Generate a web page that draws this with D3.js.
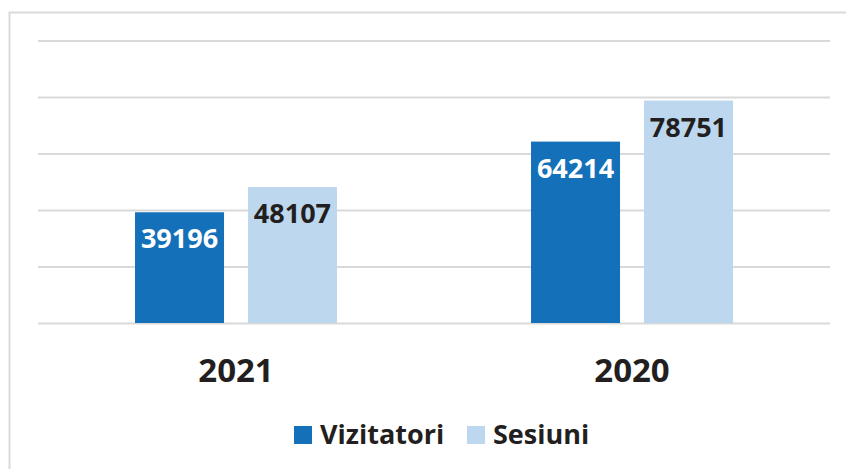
<!DOCTYPE html>
<html>
<head>
<meta charset="utf-8">
<script src="https://cdn.jsdelivr.net/npm/d3@7"></script>
<style>
  html, body { margin: 0; padding: 0; background: #fff; }
  svg { display: block; font-family: "Open Sans", sans-serif; }
</style>
</head>
<body>
<div id="chart"></div>
<script>
// data
const years = ["2021", "2020"];
const seriesNames = ["Vizitatori", "Sesiuni"];
const vizitatori = [39196, 64214];
const sesiuni = [48107, 78751];
const yTicks = [0, 20000, 40000, 60000, 80000, 100000];

const colors = { Vizitatori: "#1470b8", Sesiuni: "#bdd7ee" };
const labelColors = { Vizitatori: "#ffffff", Sesiuni: "#231f20" };

const W = 846, H = 469;
const margin = { top: 40.5, left: 38, right: 16, bottom: 146 };
const width = W - margin.left - margin.right;   // 792
const height = H - margin.top - margin.bottom;  // ~282.5

const rows = years.map((y, i) => ({ year: y, Vizitatori: vizitatori[i], Sesiuni: sesiuni[i] }));

const svg = d3.select("#chart").append("svg")
    .attr("width", W)
    .attr("height", H);

// chart frame (only top and left edges visible)
svg.append("rect")
    .attr("x", 9.5).attr("y", 12.5)
    .attr("width", W + 20).attr("height", H + 20)
    .attr("fill", "none")
    .attr("stroke", "#d9d9d9")
    .attr("stroke-width", 2);

const g = svg.append("g")
    .attr("transform", `translate(${margin.left},${margin.top})`);

const x0 = d3.scaleBand()
    .domain(years)
    .range([0, width])
    .paddingInner(0.49)
    .paddingOuter(0.245);

const x1 = d3.scaleBand()
    .domain(seriesNames)
    .range([0, x0.bandwidth()])
    .paddingInner(0.212);

const y = d3.scaleLinear()
    .domain([0, 100000])
    .range([height, 0]);

// gridlines
g.append("g")
    .attr("class", "grid")
    .call(d3.axisLeft(y).tickValues(yTicks).tickSize(-width).tickFormat(""))
    .call(s => s.select(".domain").remove())
    .call(s => s.selectAll(".tick line")
        .attr("stroke", "#d9d9d9")
        .attr("stroke-width", 2));

// bars
const groups = g.selectAll(".year")
    .data(rows)
    .enter().append("g")
    .attr("class", "year")
    .attr("transform", d => `translate(${x0(d.year)},0)`);

groups.selectAll("rect")
    .data(d => seriesNames.map(k => ({ key: k, value: d[k] })))
    .enter().append("rect")
    .attr("x", d => x1(d.key))
    .attr("width", x1.bandwidth())
    .attr("y", d => y(d.value))
    .attr("height", d => height - y(d.value))
    .attr("fill", d => colors[d.key]);

groups.selectAll(".bar-label")
    .data(d => seriesNames.map(k => ({ key: k, value: d[k] })))
    .enter().append("text")
    .attr("class", "bar-label")
    .attr("x", d => x1(d.key) + x1.bandwidth() / 2)
    .attr("y", d => y(d.value) + 36)
    .attr("text-anchor", "middle")
    .style("font-size", "27px")
    .style("font-weight", 700)
    .style("fill", d => labelColors[d.key])
    .text(d => d.value);

// x axis labels
g.append("g")
    .attr("transform", `translate(0,${height})`)
    .call(d3.axisBottom(x0).tickSize(0).tickPadding(0))
    .call(s => s.select(".domain").remove())
    .call(s => s.selectAll(".tick text")
        .attr("dy", null)
        .attr("y", 59)
        .style("font-family", "'Open Sans', sans-serif")
        .style("font-size", "33px")
        .style("font-weight", 700)
        .style("fill", "#231f20"));

// legend
const legendX = [294, 467];
const legend = svg.append("g").attr("class", "legend");
seriesNames.forEach((k, i) => {
    legend.append("rect")
        .attr("x", legendX[i]).attr("y", 426)
        .attr("width", 18).attr("height", 18)
        .attr("fill", colors[k]);
    legend.append("text")
        .attr("x", legendX[i] + 26).attr("y", 444)
        .style("font-size", "27px")
        .style("font-weight", 700)
        .style("fill", "#231f20")
        .text(k);
});
</script>
</body>
</html>
